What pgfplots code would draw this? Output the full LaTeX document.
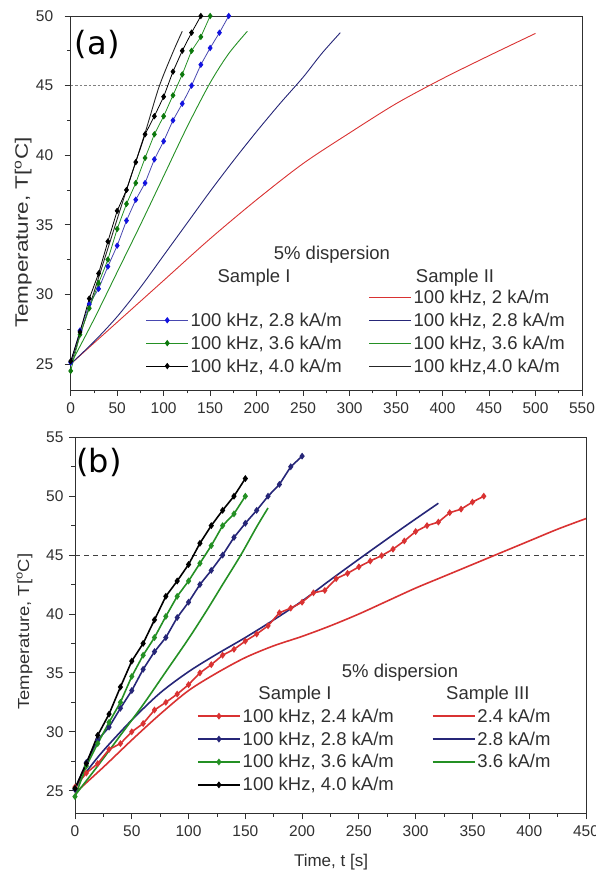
\documentclass[border=0pt]{standalone}
\usepackage{fontspec}
\setmainfont{Liberation Sans}
\newfontfamily\dejavu{DejaVu Sans}
\usepackage{graphicx}
\usepackage{pgfplots}
\usepackage{pgfplotstable}
\pgfplotsset{compat=1.18}

\definecolor{txt}{HTML}{303030}
\definecolor{cred}{HTML}{D93232}
\definecolor{bluemk}{HTML}{1212E0}
\definecolor{blueln}{HTML}{4848B0}
\definecolor{navy}{HTML}{262678}
\definecolor{cgreen}{HTML}{249024}
\definecolor{greenmk}{HTML}{0C780C}

% Sample I, markers every 10 s (shared by both panels)
\pgfplotstableread{
t T
0 25.1
10 27.4
20 29.3
30 30.4
40 32.0
50 33.5
60 35.3
70 36.8
80 38.0
90 39.7
100 41.0
110 42.5
120 43.7
130 45.0
140 46.5
150 47.7
160 48.8
170 50.0
180 51.0
190 52.5
200 53.4
}\sIblue
\pgfplotstableread{
t T
0 24.5
10 27.1
20 29.0
30 30.8
40 32.5
50 34.7
60 36.5
70 38.0
80 39.8
90 41.5
100 42.8
110 44.3
120 45.8
130 47.5
140 48.5
150 50.0
}\sIgreen
\pgfplotstableread{
t T
0 25.2
10 27.3
20 29.7
30 31.5
40 33.8
50 36.0
60 37.5
70 39.5
80 41.5
90 42.8
100 44.2
110 46.0
120 47.5
130 48.8
140 50.0
150 51.5
}\sIblack
\pgfplotstableread{
t T
0 25.3
10 26.5
20 27.3
30 28.5
40 29.0
50 30.0
60 30.7
70 31.85
80 32.5
90 33.2
100 34.0
110 35.0
120 35.7
130 36.5
140 37.0
150 37.7
160 38.3
170 39.0
180 40.1
190 40.5
200 41.0
210 41.8
220 42.0
230 43.0
240 43.45
250 44.0
260 44.5
270 44.95
280 45.5
290 46.2
300 47.0
310 47.5
320 47.8
330 48.6
340 48.9
350 49.5
360 50.0
}\sIred

% Sample II (panel a)
\pgfplotstableread{
t T
0 25.0
50 28.0
100 31.0
150 34.0
200 36.8
250 39.4
300 41.6
350 43.7
400 45.5
450 47.15
500 48.75
}\sIIred
\pgfplotstableread{
t T
0 25.0
25 26.6
50 28.4
75 30.5
100 32.8
125 35.1
150 37.4
175 39.6
200 41.7
225 43.7
250 45.6
270 47.3
290 48.8
}\sIInavy
\pgfplotstableread{
t T
0 25.0
25 28.2
50 31.6
75 35.0
100 38.5
125 42.0
150 45.2
170 47.3
190 48.9
}\sIIgreen
\pgfplotstableread{
t T
0 25.0
20 29.1
40 33.3
60 37.5
80 41.6
95 44.9
110 47.4
120 48.9
}\sIIblack

% Sample III (panel b)
\pgfplotstableread{
t T
0 24.8
25 27.0
50 29.3
75 31.5
100 33.5
125 35.0
150 36.3
175 37.3
200 38.1
225 39.0
250 40.0
275 41.1
300 42.2
325 43.2
350 44.2
375 45.2
400 46.2
425 47.2
450 48.1
}\sIIIred
\pgfplotstableread{
t T
0 25.2
10 26.6
25 28.4
50 31.0
75 33.3
100 35.1
125 36.6
150 38.0
175 39.5
200 41.1
225 42.9
255 45.0
290 47.4
320 49.4
}\sIIInavy
\pgfplotstableread{
t T
0 24.6
20 27.1
40 29.7
60 32.3
80 35.1
100 37.9
116 40.3
130 42.5
146 45.0
160 47.4
170 49.0
}\sIIIgreen

\pgfplotsset{
  panel/.style={
    scale only axis, anchor=south west, clip=true,
    axis line style={txt, line width=0.8pt},
    tick pos=left, tick align=outside, minor tick num=1,
    major tick length=6pt, minor tick length=3.5pt,
    every tick/.style={txt, line width=0.8pt},
    tick label style={font=\fontsize{15.5}{18}\selectfont, text=txt},
    xticklabel style={yshift=-3pt},
    /pgf/number format/assume math mode=true,
    legend cell align=left,
    legend style={draw=none, fill=none, text=txt, inner sep=0pt, outer sep=0pt,
      font=\fontsize{18.5}{20}\selectfont, row sep=4pt, anchor=north west,
      nodes={inner sep=2pt}},
    legend image code/.code={\draw[mark repeat=2,mark phase=2]
      plot coordinates {(0pt,0pt)(21pt,0pt)(42pt,0pt)};},
  },
}
\tikzset{hdr/.style={font=\fontsize{18.5}{20}\selectfont, text=txt, inner sep=0pt}}

\begin{document}
\begin{tikzpicture}
\useasboundingbox (0,0) rectangle (595pt,875pt);

% ---------------- panel (a)
\begin{axis}[panel, at={(70.7pt,485pt)}, width=511.3pt, height=374pt,
  xmin=0, xmax=550, ymin=23.13, ymax=50,
  xtick={0,50,...,550}, ytick={25,30,...,50},
  yticklabel style={xshift=-8pt},
  ylabel={\scalebox{1.25}[1]{Temperature, T[\textsuperscript{o}C]}},
  every axis y label/.style={at={(axis description cs:-0.093,0.421)}, rotate=90, anchor=center,
    font=\fontsize{18}{20}\selectfont, text=txt},
  legend columns=2,
  legend style={at={(axis description cs:0.147,0.273)},
    /tikz/every even column/.append style={column sep=25pt}},
]
\addplot[forget plot, gray, line width=0.6pt, dash pattern=on 2.5pt off 2pt] coordinates {(0,45)(550,45)};
\addplot[forget plot, cred, line width=0.9pt, smooth] table {\sIIred};
\addplot[forget plot, navy, line width=0.9pt, smooth] table {\sIInavy};
\addplot[forget plot, cgreen, line width=0.9pt, smooth] table {\sIIgreen};
\addplot[forget plot, black!85, line width=0.9pt, smooth] table {\sIIblack};
\addplot[forget plot, blueln, line width=0.8pt, mark=diamond*, mark size=2.6pt,
  mark options={fill=bluemk, draw=bluemk}, restrict x to domain=0:170] table {\sIblue};
\addplot[forget plot, cgreen, line width=0.8pt, mark=diamond*, mark size=2.6pt,
  mark options={fill=greenmk, draw=greenmk}, restrict x to domain=0:150] table {\sIgreen};
\addplot[forget plot, black, line width=0.8pt, mark=diamond*, mark size=2.6pt,
  restrict x to domain=0:140] table {\sIblack};

\addlegendimage{empty legend}\addlegendentry{}
\addlegendimage{cred, line width=0.9pt}\addlegendentry{100 kHz, 2 kA/m}
\addlegendimage{blueln, line width=0.8pt, mark=diamond*, mark size=2.6pt, mark options={fill=bluemk, draw=bluemk}}\addlegendentry{100 kHz, 2.8 kA/m}
\addlegendimage{navy, line width=0.9pt}\addlegendentry{100 kHz, 2.8 kA/m}
\addlegendimage{cgreen, line width=0.8pt, mark=diamond*, mark size=2.6pt, mark options={fill=greenmk, draw=greenmk}}\addlegendentry{100 kHz, 3.6 kA/m}
\addlegendimage{cgreen, line width=0.9pt}\addlegendentry{100 kHz, 3.6 kA/m}
\addlegendimage{black, line width=0.8pt, mark=diamond*, mark size=2.6pt}\addlegendentry{100 kHz, 4.0 kA/m}
\addlegendimage{black!85, line width=0.9pt}\addlegendentry{100 kHz,4.0 kA/m}

\node[hdr] at (axis description cs:0.511,0.361) {5\% dispersion};
\node[hdr] at (axis description cs:0.3585,0.2995) {Sample I};
\node[hdr] at (axis description cs:0.7516,0.2995) {Sample II};
\node[anchor=north west, inner sep=0pt, font=\dejavu\fontsize{32}{32}\selectfont]
  at (axis description cs:0.008,0.962) {(a)};
\end{axis}

% ---------------- panel (b)
\begin{axis}[panel, at={(75pt,61.7pt)}, width=511pt, height=376pt,
  xmin=0, xmax=450, ymin=23.08, ymax=55,
  xtick={0,50,...,450}, ytick={25,30,...,55},
  yticklabel style={xshift=-2pt},
  xlabel={Time, t [s]},
  every axis x label/.style={at={(axis description cs:0.501,-0.1295)}, anchor=center,
    font=\fontsize{17}{20}\selectfont, text=txt},
  ylabel={\scalebox{1.15}[1]{Temperature, T[\textsuperscript{o}C]}},
  every axis y label/.style={at={(axis description cs:-0.0988,0.483)}, rotate=90, anchor=center,
    font=\fontsize{16}{20}\selectfont, text=txt},
  legend columns=2,
  legend style={at={(axis description cs:0.239,0.2835)},
    /tikz/every even column/.append style={column sep=36pt}},
]
\addplot[forget plot, black!75, line width=1pt, dash pattern=on 5pt off 4pt] coordinates {(0,45)(450,45)};
\addplot[forget plot, cred, line width=1.6pt, smooth] table {\sIIIred};
\addplot[forget plot, navy, line width=1.6pt, smooth] table {\sIIInavy};
\addplot[forget plot, cgreen, line width=1.6pt, smooth] table {\sIIIgreen};
\addplot[forget plot, cred, line width=1.6pt, mark=diamond*, mark size=2.2pt] table {\sIred};
\addplot[forget plot, navy, line width=1.6pt, mark=diamond*, mark size=2.2pt] table {\sIblue};
\addplot[forget plot, cgreen, line width=1.6pt, mark=diamond*, mark size=2.2pt] table {\sIgreen};
\addplot[forget plot, black, line width=1.6pt, mark=diamond*, mark size=2.2pt] table {\sIblack};

\addlegendimage{cred, line width=1.6pt, mark=diamond*, mark size=2.2pt}\addlegendentry{100 kHz, 2.4 kA/m}
\addlegendimage{cred, line width=1.6pt}\addlegendentry{2.4 kA/m}
\addlegendimage{navy, line width=1.6pt, mark=diamond*, mark size=2.2pt}\addlegendentry{100 kHz, 2.8 kA/m}
\addlegendimage{navy, line width=1.6pt}\addlegendentry{2.8 kA/m}
\addlegendimage{cgreen, line width=1.6pt, mark=diamond*, mark size=2.2pt}\addlegendentry{100 kHz, 3.6 kA/m}
\addlegendimage{cgreen, line width=1.6pt}\addlegendentry{3.6 kA/m}
\addlegendimage{black, line width=1.6pt, mark=diamond*, mark size=2.2pt}\addlegendentry{100 kHz, 4.0 kA/m}
\addlegendimage{empty legend}\addlegendentry{}

\node[hdr] at (axis description cs:0.636,0.373) {5\% dispersion};
\node[hdr] at (axis description cs:0.4305,0.3146) {Sample I};
\node[hdr] at (axis description cs:0.808,0.3146) {Sample III};
\node[anchor=north west, inner sep=0pt, font=\dejavu\fontsize{32}{32}\selectfont]
  at (axis description cs:0.002,0.971) {(b)};
\end{axis}
\end{tikzpicture}
\end{document}
